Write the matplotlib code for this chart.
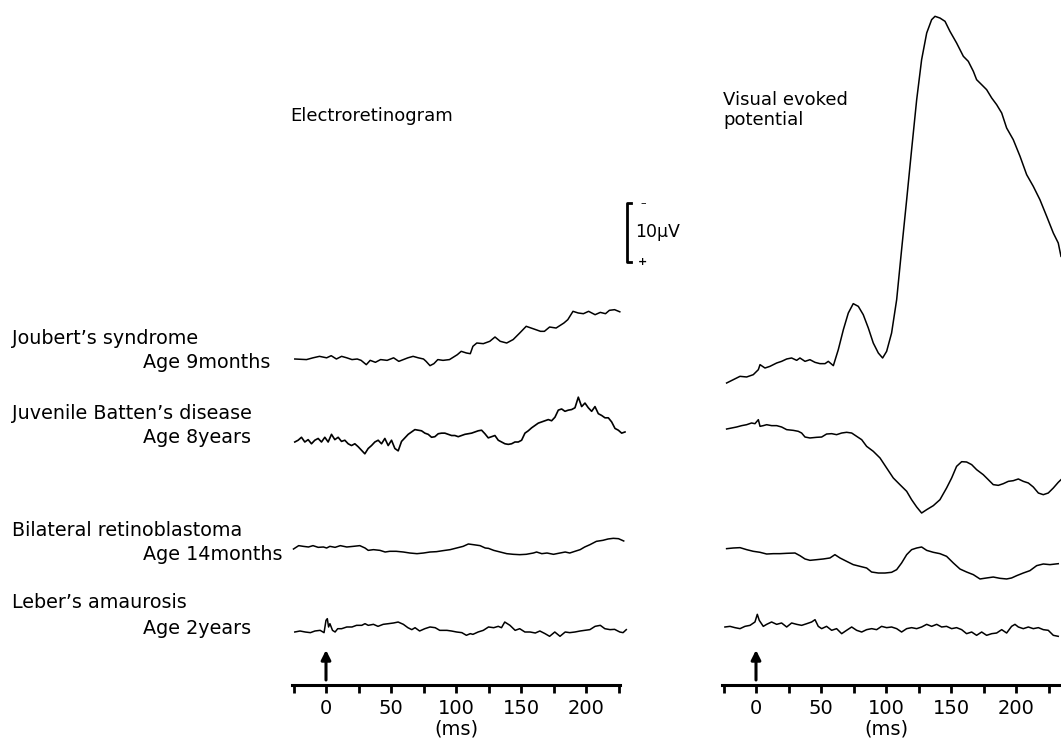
import numpy as np
import matplotlib
matplotlib.use('Agg')
import matplotlib.pyplot as plt

# recordings: (time in ms, deflection in uV, negativity up)
erg_joubert = [(-24, 0), (-15, -0.1), (-10, 0.2), (-5, 0.45), (0.5, 0.2), (4, 0.56), (8, 0), (12, 0.45),
               (16, 0.2), (20, -0.1), (24, 0), (27, -0.23), (31, -0.96), (34, -0.23), (38, -0.56), (42, -0.1),
               (47, -0.23), (52, 0.2), (56, -0.4), (63, 0.2), (67, 0.45), (71, 0.2), (75, 0), (77, -0.4),
               (80, -1.13), (83, -0.79), (86, -0.1), (90, -0.23), (95, -0.1), (101, 0.73), (104, 1.3),
               (108, 1.02), (111, 0.9), (113, 2.15), (116, 2.71), (121, 2.6), (126, 3.0), (130, 3.73),
               (134, 3.0), (139, 2.71), (144, 3.3), (149, 4.4), (154, 5.54), (160, 5.08), (165, 4.69),
               (168, 4.69), (172, 5.42), (177, 5.25), (183, 6.1), (186, 6.67), (190, 8.08), (194, 7.8),
               (198, 7.68), (202, 8.08), (207, 7.51), (211, 7.9), (215, 7.68), (218, 8.25), (222, 8.36),
               (226, 8.0)]

# Batten ERG read at even steps from -24 to 230 ms
erg_batten_uv = [0, .3, .8, 0, .4, -.3, .3, .6, 0, .8, 0, 1.3, .4, .8, .1, .3, -.3, -.6, -.3, -.8,
                 -1.4, -2.0, -1.1, -.6, 0, .3, -.3, .6, -.6, .3, -1.1, -1.5,
                 .1, .7, 1.3, 1.7, 2.1, 2.0, 1.9, 1.5, 1.3, .8,
                 .9, 1.4, 1.5, 1.5, 1.3, 1.1, 1.1, .9, 1.1, 1.3,
                 1.4, 1.5, 1.7, 1.9, 2.0, 1.4, .7, .9, 1.1, .3,
                 0, -.3, -.4, -.3, 0, 0, .3, 1.5, 1.9, 2.4,
                 2.8, 3.2, 3.4, 3.6, 3.8, 3.6, 4.2, 5.4, 5.6, 5.2,
                 5.4, 5.5, 5.8, 7.6, 6.0, 6.6, 5.8, 5.2, 6.0, 4.8,
                 4.5, 4.1, 4.1, 3.4, 2.3, 2.0, 1.5, 1.7]
erg_batten_t = np.linspace(-24, 230, len(erg_batten_uv))

erg_retino = [(-25, -.17), (-21, .4), (-17.5, .28), (-13.5, .17), (-10, .4), (-6, .11), (-2, .17), (0.5, 0),
              (3, .28), (7, .11), (11, .4), (16, .17), (21, .28), (26, .4), (30, 0), (32.5, -.4), (36.5, -.28),
              (41.5, -.4), (45.5, -.68), (49, -.56), (54, -.56), (59.5, -.68), (64.5, -.85), (70, -.96),
              (75, -.85), (80, -.68), (85, -.62), (90, -.45), (95.5, -.28), (100.5, 0), (105.5, .28),
              (109.5, .68), (113.5, .56), (118.5, .4), (122.5, 0), (125, -.06), (129, -.4), (134, -.68),
              (139, -.96), (144, -1.07), (149, -1.13), (154, -1.07), (159.5, -.85), (162, -.68), (166, -.96),
              (170, -.85), (175, -1.07), (180, -.85), (184, -.68), (187.5, -.85), (191.5, -.56), (195.5, -.28),
              (199, .17), (203, .56), (208, 1.13), (213, 1.3), (217, 1.53), (221, 1.64), (225, 1.58),
              (229, 1.19)]

erg_leber = [(-24, 0), (-20, .17), (-16, 0), (-12, -.11), (-8.5, .17), (-4.5, .28), (-1.5, -.11), (0, 1.98),
             (1, 2.26), (2, .85), (3, 1.41), (5, .28), (7, 0), (9, .56), (12, .56), (16, .85), (20, .85),
             (23.5, 1.13), (27.5, 1.13), (30, 1.41), (32.5, 1.13), (36.5, 1.3), (40, .96), (44, 1.3),
             (48, 1.41), (52, 1.53), (55.5, 1.69), (59.5, 1.3), (63, .73), (66, .4), (68.5, .73), (72, .17),
             (76, .56), (80, .85), (84, .73), (87.5, .28), (93, .28), (96.5, .17), (100.5, 0), (104.5, -.11),
             (108, -.56), (111, -.28), (113, -.4), (117, 0), (121, .28), (125, .85), (129, .73), (132.5, .96),
             (135, .73), (137.5, 1.69), (141.5, 1.13), (145.5, .28), (149, .56), (153, 0), (157, 0),
             (161, -.17), (164.5, .17), (168.5, -.28), (172, -.73), (176, 0), (180, -.73), (184, 0),
             (187.5, -.11), (191.5, 0), (195.5, .17), (199, .28), (203, .4), (207, .96), (211, 1.13),
             (214.5, .56), (218.5, .4), (222, .45), (226, 0), (228.5, -.11), (231, .4)]

vep_joubert = [(-22.6, 0), (-17.5, .56), (-12.3, 1.13), (-7.2, 1.02), (-2.1, 1.41), (1.8, 2.26), (3.1, 3.11),
               (6.9, 2.54), (10.7, 2.82), (15.9, 3.39), (19.7, 3.67), (23.6, 4.07), (27.4, 4.24), (31.3, 3.84),
               (33.8, 4.24), (37.7, 3.67), (41.5, 3.95), (45.4, 3.5), (49.2, 3.28), (53.1, 3.28), (55.6, 3.67),
               (59.5, 2.94), (63.3, 5.65), (67.2, 9.04), (71, 11.86), (74.8, 13.45), (78.7, 12.99),
               (82.5, 11.58), (86.4, 9.32), (90.2, 6.78), (94.1, 5.08), (97.4, 4.24), (100.5, 5.37),
               (104.3, 8.47), (108.2, 14.12), (112, 22.6), (115.9, 31.07), (119.7, 39.55), (123.6, 48.02),
               (127.4, 54.8), (131.3, 59.32), (135.1, 61.58), (137.7, 62.15), (141.5, 61.86), (145.4, 61.3),
               (149.2, 59.6), (154.3, 57.63), (159.5, 55.37), (163.3, 54.52), (167.2, 52.82), (169.7, 51.41),
               (173.6, 50.56), (177.4, 49.72), (181.3, 48.31), (185.1, 47.18), (189, 45.76), (192.8, 43.22),
               (197.9, 41.24), (203.1, 38.42), (208.2, 35.31), (213.3, 33.33), (218.4, 31.07),
               (223.6, 28.25), (228.7, 25.42), (232.5, 23.73), (234.6, 21.47)]

vep_batten = [(-22.6, -.17), (-18.7, 0), (-14.9, .17), (-11, .4), (-7.2, .56), (-3.4, .85), (-0.8, .73),
              (1.8, 1.41), (3.1, .28), (5.6, .4), (8.2, .56), (12, .4), (15.9, .4), (19.7, .17), (23.6, -.28),
              (28.7, -.4), (32.5, -.56), (35.1, -.85), (37.7, -1.53), (41.5, -1.69), (46.6, -1.58),
              (50.5, -1.53), (54.3, -1.02), (58.2, -.96), (62, -1.13), (65.9, -.85), (69.7, -.73),
              (73.6, -.85), (77.4, -1.41), (81.3, -1.98), (85.1, -3.11), (90.2, -3.95), (95.4, -5.08),
              (100.5, -6.78), (105.6, -8.47), (110.7, -9.6), (115.9, -10.73), (119.7, -12.15),
              (123.6, -13.39), (127.4, -14.41), (131.3, -13.84), (136.4, -13.16), (141.5, -12.15),
              (146.6, -10.17), (150.5, -8.47), (154.3, -6.5), (158.2, -5.71), (162, -5.76), (165.9, -6.21),
              (169.7, -7.06), (174.8, -7.91), (178.7, -8.76), (182.5, -9.6), (186.4, -9.72), (190.2, -9.44),
              (194.1, -9.04), (197.9, -8.93), (201.8, -8.64), (205.6, -9.04), (209.5, -9.32), (213.3, -10.0),
              (217.2, -11.02), (221, -11.3), (224.8, -11.02), (228.7, -10.17), (232.5, -9.21), (234.6, -8.76)]

vep_retino = [(-22.6, -.11), (-17.5, 0), (-12.3, .06), (-7.2, -.28), (-2.1, -.56), (3.1, -.73), (8.2, -1.02),
              (13.3, -.96), (18.4, -.96), (23.6, -.9), (30, -.85), (33.8, -1.3), (37.7, -1.86), (41.5, -2.09),
              (46.6, -1.98), (51.8, -1.86), (56.9, -1.69), (60.7, -1.13), (64.6, -1.69), (69.7, -2.26),
              (74.8, -2.82), (80, -3.11), (85.1, -3.39), (88.9, -4.07), (94.1, -4.24), (99.2, -4.24),
              (104.3, -4.12), (108.2, -3.67), (112, -2.54), (115.9, -1.13), (119.7, -.28), (123.6, 0),
              (127.4, .17), (131.3, -.4), (136.4, -.73), (141.5, -.96), (146.6, -1.41), (151.8, -2.54),
              (156.9, -3.56), (162, -4.07), (167.2, -4.52), (172.3, -5.25), (177.4, -5.08), (182.5, -4.92),
              (187.7, -5.14), (192.8, -5.25), (196.6, -5.08), (200.5, -4.69), (205.6, -4.24), (210.7, -3.84),
              (215.9, -2.99), (221, -2.71), (226.1, -2.82), (232.5, -2.66)]

vep_leber = [(-23.9, 0), (-20, .11), (-16.2, -.11), (-12.3, -.28), (-8.5, .11), (-4.6, .28), (-0.8, .85),
             (1, 2.15), (2.5, 1.13), (5.6, .11), (8.2, .45), (12, .85), (15.9, .45), (19.7, .68), (23.6, 0),
             (27.4, .68), (31.3, .45), (35.1, .28), (39, .56), (42.8, .85), (45.4, 1.24), (47.9, .11),
             (50.5, -.28), (54.3, .11), (58.2, -.56), (62, -.28), (65.9, -1.13), (69.7, -.56), (73.6, 0),
             (77.4, -.56), (81.3, -.85), (85.1, -.45), (89, -.28), (92.8, -.45), (96.6, .11), (100.5, -.11),
             (104.3, 0), (108.2, -.28), (112, -.85), (115.9, -.28), (119.7, -.11), (123.6, -.28), (127.4, 0),
             (131.3, .45), (135.1, .11), (139, .45), (142.8, 0), (146.6, .11), (150.5, -.28), (154.3, -.11),
             (158.2, -.45), (162, -1.13), (165.9, -.85), (169.7, -1.41), (173.6, -.85), (177.4, -1.41),
             (181.3, -1.13), (185.1, -1.02), (189, -.45), (192.8, -1.02), (196.6, .11), (199.2, .45),
             (201.8, 0), (205.6, -.28), (209.5, 0), (213.3, -.28), (217.2, -.11), (221, -.45), (224.8, -.56),
             (228.7, -1.41), (232.5, -1.58)]

diagnoses = ["Joubert\u2019s syndrome", "Juvenile Batten\u2019s disease",
             "Bilateral retinoblastoma", "Leber\u2019s amaurosis"]
ages = ["Age 9months", "Age 8years", "Age 14months", "Age 2years"]
tick_ms = list(range(-25, 226, 25))
tick_text = ['' if (t < 0 or t % 50) else str(t) for t in tick_ms]

# ---- layout (pixels of the 1061x740 canvas) ----
W, H = 1061, 740
PX_PER_MS = 1.3
PX_PER_UV = 5.9
AXIS_PX = 685


def px_to_uv(p):
    return (H - p) / PX_PER_UV


plt.rcParams['font.family'] = ['DejaVu Sans']
fig = plt.figure(figsize=(W / 100, H / 100), dpi=100)


def make_panel(left_px, zero_px, width_px, spine_end):
    ax = fig.add_axes([left_px / W, 0, width_px / W, 1])
    t0 = (left_px - zero_px) / PX_PER_MS
    ax.set_xlim(t0, t0 + width_px / PX_PER_MS)
    ax.set_ylim(0, H / PX_PER_UV)
    ax.patch.set_visible(False)
    for s in ['left', 'right', 'top']:
        ax.spines[s].set_visible(False)
    ax.yaxis.set_visible(False)
    ax.spines['bottom'].set_position(('data', px_to_uv(AXIS_PX)))
    ax.spines['bottom'].set_bounds(-26, spine_end)
    ax.spines['bottom'].set_linewidth(2.2)
    ax.set_xticks(tick_ms)
    ax.set_xticklabels(tick_text)
    ax.tick_params(axis='x', direction='out', length=6, width=2, labelsize=14, pad=4)
    ax.text(100, px_to_uv(729), '(ms)', ha='center', va='center', fontsize=14)
    ax.annotate('', xy=(0, px_to_uv(650)), xytext=(0, px_to_uv(680)),
                arrowprops=dict(arrowstyle='-|>', color='black', lw=2.2,
                                mutation_scale=14, shrinkA=0, shrinkB=0))
    return ax


ax_erg = make_panel(280, 326, 360, 226)
ax_vep = make_panel(700, 756, 361, 240)


def draw(ax, trace, base_px):
    t = [p[0] for p in trace]
    v = [p[1] for p in trace]
    ax.plot(t, px_to_uv(base_px) + np.array(v), color='black', lw=1.1)


draw(ax_erg, erg_joubert, 359)
ax_erg.plot(erg_batten_t, px_to_uv(442) + np.array(erg_batten_uv), color='black', lw=1.2)
draw(ax_erg, erg_retino, 548)
draw(ax_erg, erg_leber, 632)

draw(ax_vep, vep_joubert, 383)
draw(ax_vep, vep_batten, 428)
draw(ax_vep, vep_retino, 548)
draw(ax_vep, vep_leber, 627)

# 10 uV calibration bar
xb = (626.7 - 326) / PX_PER_MS
lo = px_to_uv(261.7)
ax_erg.plot([xb + 3, xb, xb, xb + 3], [lo, lo, lo + 10, lo + 10], color='black', lw=2, clip_on=False)
ax_erg.text(xb + 12.5, lo + 10, '\u2013', ha='center', va='center', fontsize=8)
ax_erg.text(xb + 12.5, lo, '+', ha='center', va='center', fontsize=8, fontweight='bold')
ax_erg.text(xb + 6.5, lo + 5, '10\u00b5V', ha='left', va='center', fontsize=12.5)

# titles and row labels
fig.text(290 / W, 1 - 116 / H, 'Electroretinogram', ha='left', va='center', fontsize=13)
fig.text(723 / W, 1 - 110 / H, 'Visual evoked\npotential', ha='left', va='center',
         fontsize=13, linespacing=1.15)

diag_y = [338, 414, 531, 603]
age_y = [363, 438, 555, 628]
for name, age, yd, ya in zip(diagnoses, ages, diag_y, age_y):
    fig.text(12 / W, 1 - yd / H, name, ha='left', va='center', fontsize=13.8)
    fig.text(143 / W, 1 - ya / H, age, ha='left', va='center', fontsize=13.8)

fig.savefig('out.png', dpi=100)
